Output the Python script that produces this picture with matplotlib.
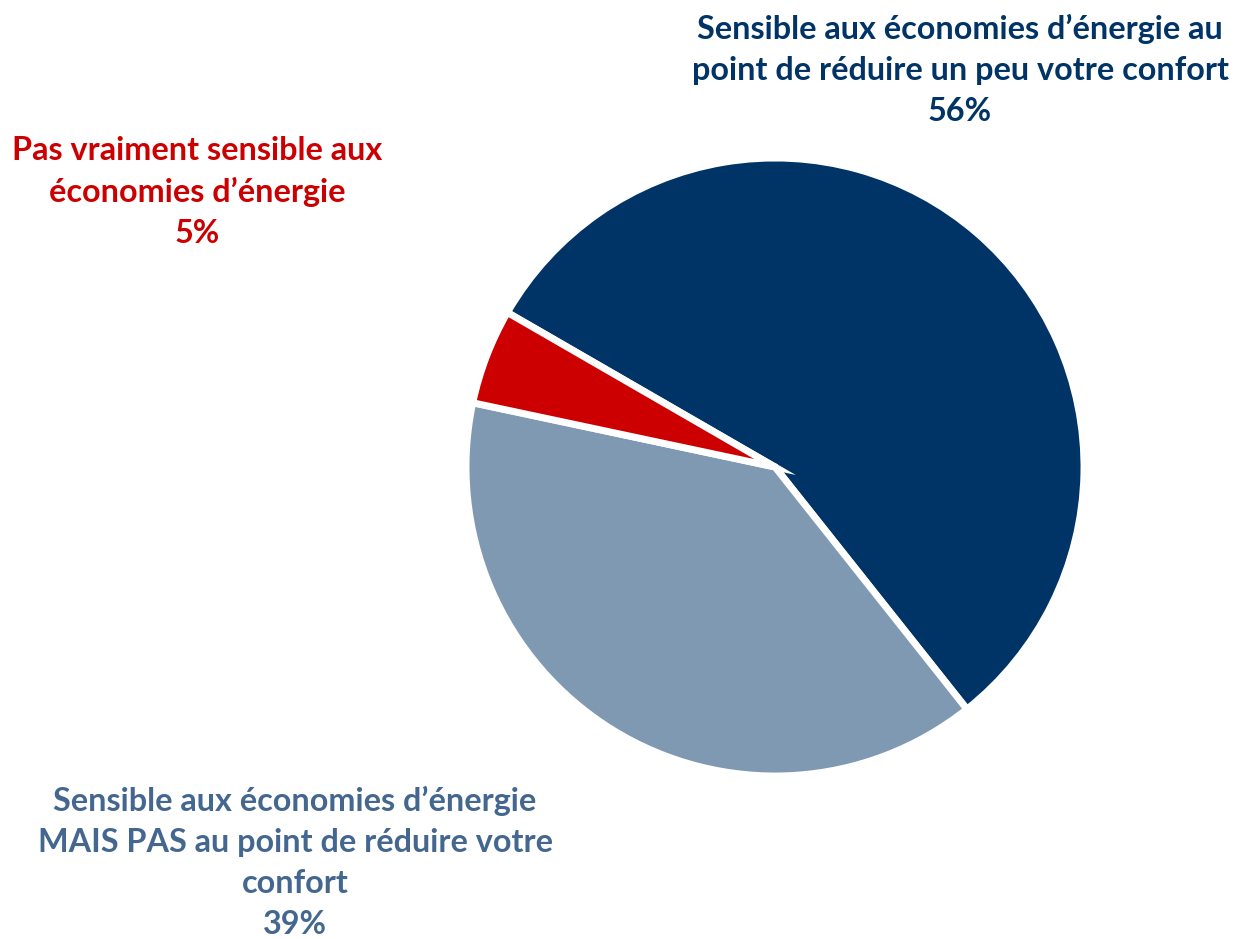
import matplotlib.pyplot as plt

# data
labels = ["Sensible aux économies d\u2019énergie au\npoint de réduire un peu votre confort",
          "Sensible aux économies d\u2019énergie\nMAIS PAS au point de réduire votre\nconfort",
          "Pas vraiment sensible aux\néconomies d\u2019énergie"]
values = [56, 39, 5]
colors = ['#003366', '#8099B3', '#CC0000']
text_colors = ['#003366', '#44678F', '#CC0000']
# label centres in figure pixels (x, y from top)
label_pos = [(960, 70), (295, 862), (197, 192)]

W, H = 1235, 939
fig = plt.figure(figsize=(W/100, H/100), dpi=100)

cx, cy, r = 775, 467, 309
ax = fig.add_axes([(cx-r)/W, (H-cy-r)/H, 2*r/W, 2*r/H])
ax.pie(values, colors=colors, startangle=150, counterclock=False,
       wedgeprops={'edgecolor': 'white', 'linewidth': 5}, frame=False)
ax.set_xlim(-1, 1)
ax.set_ylim(-1, 1)
ax.set_aspect('equal')
ax.axis('off')

for lab, v, c, (x, y) in zip(labels, values, text_colors, label_pos):
    fig.text(x/W, 1-y/H, lab+'\n'+str(v)+'%', ha='center', va='center',
             color=c, fontsize=23.3, fontweight='bold', family='Lato', linespacing=1.5)

fig.savefig('out.png', dpi=100)
